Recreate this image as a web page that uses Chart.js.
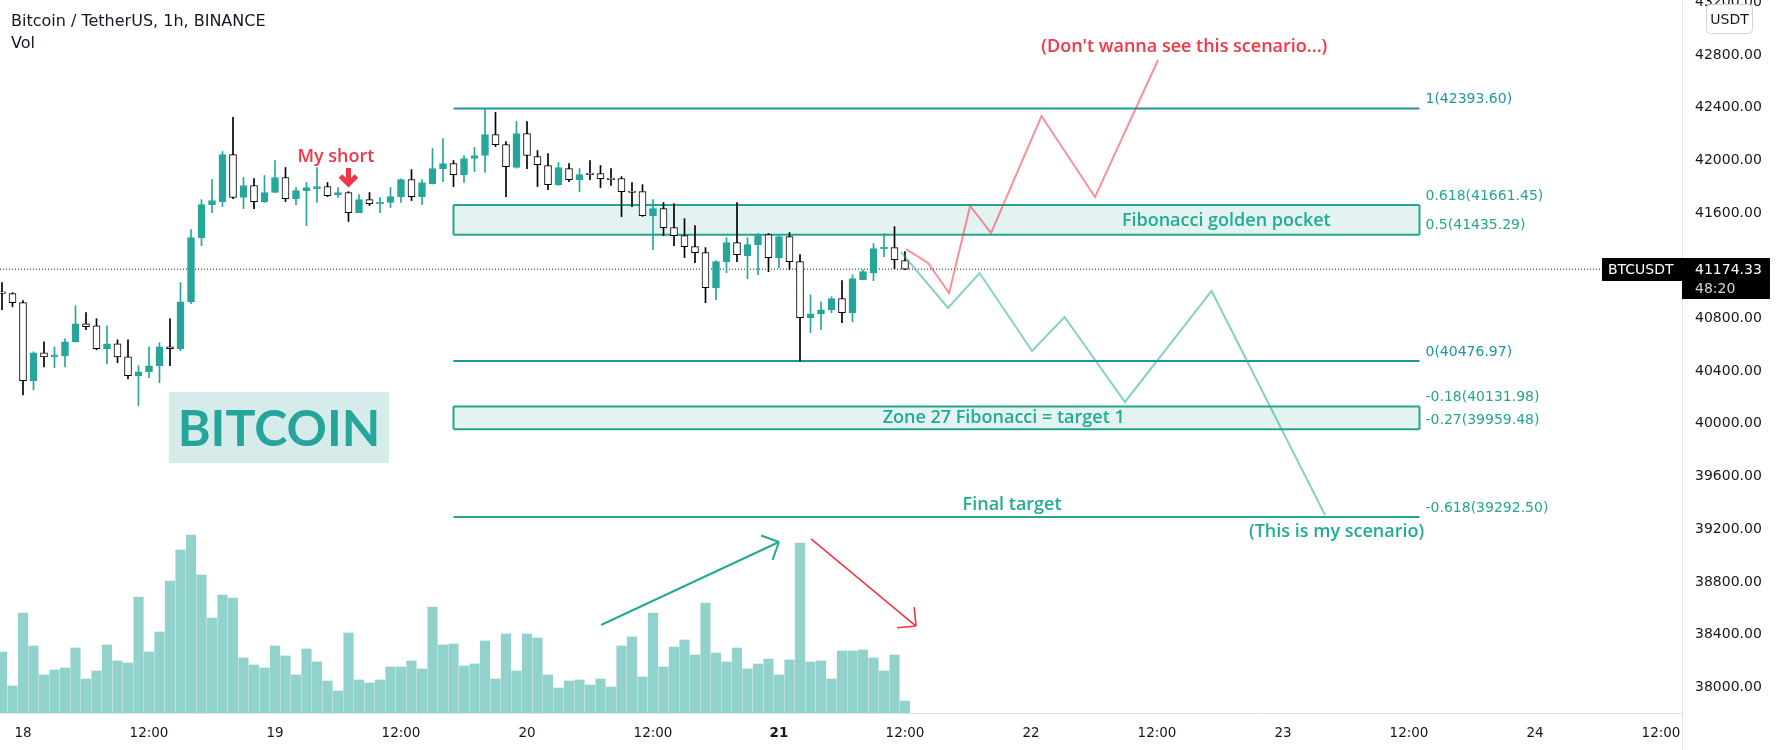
<!DOCTYPE html>
<html>
<head>
<meta charset="utf-8">
<script src="https://cdn.jsdelivr.net/npm/chart.js@4.4.0/dist/chart.umd.min.js"></script>
<style>
  html, body { margin: 0; padding: 0; background: #ffffff; }
  #wrap { width: 1776px; height: 750px; }
</style>
</head>
<body>
<div id="wrap"><canvas id="myChart" width="1776" height="750"></canvas></div>
<script>
// hours since 18 00:00 (1h candles)
const hours = [-2, -1, 0, 1, 2, 3, 4, 5, 6, 7, 8, 9, 10, 11, 12, 13, 14, 15, 16, 17, 18, 19, 20, 21, 22, 23, 24, 25, 26, 27,
  28, 29, 30, 31, 32, 33, 34, 35, 36, 37, 38, 39, 40, 41, 42, 43, 44, 45, 46, 47, 48, 49, 50, 51, 52, 53, 54, 55, 56, 57,
  58, 59, 60, 61, 62, 63, 64, 65, 66, 67, 68, 69, 70, 71, 72, 73, 74, 75, 76, 77, 78, 79, 80, 81, 82, 83, 84];

const opens = [40996, 40988, 40920, 40327, 40540, 40509, 40517, 40623, 40760, 40745,
  40570, 40608, 40509, 40365, 40395, 40441, 40585, 40570, 40927, 41414,
  41664, 41687, 42044, 41718, 41809, 41687, 41756, 41870, 41710, 41771,
  41786, 41801, 41740, 41756, 41604, 41702, 41672, 41680, 41725, 41854,
  41725, 41824, 41938, 41976, 41892, 42014, 42037, 42196, 42120, 41946,
  42204, 42029, 41961, 41816, 41938, 41854, 41900, 41900, 41862, 41862,
  41763, 41763, 41581, 41634, 41490, 41429, 41345, 41300, 41034, 41231,
  41376, 41277, 41360, 41436, 41262, 41421, 41231, 40806, 40836, 40866,
  40950, 40844, 41094, 41148, 41330, 41338, 41239];

const highs = [41072, 40996, 40935, 40547, 40623, 40585, 40646, 40897, 40844, 40798,
  40745, 40638, 40638, 40441, 40585, 40616, 40798, 41072, 41474, 41702,
  41854, 42067, 42326, 41870, 41862, 41885, 41999, 41946, 41794, 41832,
  41946, 41832, 41794, 41763, 41740, 41756, 41718, 41794, 41860, 41930,
  41854, 42090, 42166, 41999, 42037, 42098, 42394, 42364, 42143, 42295,
  42295, 42075, 42052, 41984, 41976, 41938, 41999, 41961, 41938, 41877,
  41832, 41816, 41702, 41680, 41672, 41558, 41505, 41338, 41240, 41414,
  41680, 41414, 41444, 41444, 41430, 41452, 41284, 40980, 40927, 40965,
  41087, 41132, 41170, 41368, 41444, 41497, 41307];

const lows = [40866, 40889, 40220, 40258, 40433, 40426, 40433, 40620, 40714, 40562,
  40456, 40464, 40342, 40137, 40350, 40312, 40441, 40555, 40912, 41353,
  41604, 41649, 41710, 41634, 41634, 41680, 41756, 41687, 41664, 41505,
  41680, 41725, 41718, 41536, 41604, 41657, 41604, 41642, 41680, 41695,
  41664, 41820, 41839, 41801, 41832, 41915, 41908, 42105, 41725, 41940,
  41938, 41801, 41778, 41810, 41839, 41763, 41854, 41794, 41809, 41573,
  41649, 41575, 41322, 41429, 41353, 41262, 41224, 40920, 40942, 41148,
  41231, 41102, 41132, 41155, 41186, 41170, 40477, 40692, 40714, 40844,
  40768, 40775, 41094, 41087, 41269, 41178, 41170];

const closes = [40990, 40920, 40327, 40540, 40509, 40524, 40623, 40760, 40737, 40570,
  40608, 40509, 40365, 40395, 40441, 40585, 40570, 40927, 41414, 41664,
  41695, 42044, 41718, 41809, 41687, 41756, 41870, 41710, 41771, 41794,
  41801, 41733, 41756, 41604, 41702, 41672, 41680, 41725, 41854, 41725,
  41832, 41938, 41976, 41892, 42014, 42037, 42196, 42120, 41953, 42204,
  42037, 41968, 41816, 41946, 41854, 41892, 41892, 41862, 41854, 41763,
  41756, 41581, 41634, 41490, 41429, 41345, 41300, 41034, 41231, 41376,
  41284, 41360, 41436, 41262, 41421, 41231, 40806, 40836, 40866, 40950,
  40844, 41102, 41155, 41330, 41338, 41246, 41174.33];

const volumes = [61, 27, 100, 67, 38, 43, 45, 65, 34, 42,
  68, 52, 50, 116, 61, 81, 132, 163, 178, 138,
  95, 118, 115, 55, 48, 45, 67, 57, 38, 64,
  51, 32, 22, 80, 33, 30, 33, 46, 46, 52,
  44, 106, 68, 69, 47, 49, 72, 34, 79, 42,
  79, 75, 38, 25, 32, 33, 28, 34, 26, 67,
  76, 36, 100, 46, 66, 73, 58, 110, 60, 51,
  65, 44, 49, 54, 38, 53, 170, 51, 52, 34,
  62, 62, 63, 55, 42, 58, 12];

const xTickHours = [0, 12, 24, 36, 48, 60, 72, 84, 96, 108, 120, 132, 144, 156];
const xTickLabels = ['18', '12:00', '19', '12:00', '20', '12:00', '21', '12:00', '22', '12:00', '23', '12:00', '24', '12:00'];
const priceTicks = [38000, 38400, 38800, 39200, 39600, 40000, 40400, 40800, 41200, 41600, 42000, 42400, 42800, 43200];

// Fibonacci retracement drawn from the 42393.60 high to the 40476.97 low
const fibRatios = [1, 0.618, 0.5, 0, -0.18, -0.27, -0.618];
const fibPrices = [42393.60, 41661.45, 41435.29, 40476.97, 40131.98, 39959.48, 39292.50];
const fibFrom = 41, fibTo = 133;

// scenario paths (hour, price)
const myScenarioHours = [83.6, 88.1, 91.1, 96.1, 99.2, 104.95, 113.2, 124.0];
const myScenarioPrices = [41305, 40880, 41145, 40553, 40811, 40166, 41009, 39308];
const badScenarioHours = [84.1, 86.2, 88.2, 90.2, 92.2, 97.0, 102.1, 108.1];
const badScenarioPrices = [41327, 41221, 40993, 41654, 41449, 42337, 41722, 42762];

const lastPrice = 41174.33;

const TEAL = '#26a69a';
const GREEN = '#22ab94';
const RED = '#f23645';
const AXIS_FONT = '"DejaVu Sans", sans-serif';
const NOTE_FONT = '"Open Sans", "Noto Sans", sans-serif';

const notes = [
  { text: 'My short', t: 29.8, p: 42026, color: RED },
  { text: "(Don't wanna see this scenario...)", t: 110.6, p: 42861, color: RED },
  { text: 'Fibonacci golden pocket', t: 114.6, p: 41540, color: GREEN },
  { text: 'Zone 27 Fibonacci = target 1', t: 93.4, p: 40044, color: GREEN },
  { text: 'Final target', t: 94.2, p: 39384, color: GREEN },
  { text: '(This is my scenario)', t: 125.1, p: 39179, color: GREEN }
];

function fibColor(r) { return (r === 1 || r === 0) ? '#1d95a2' : '#26a48c'; }
const isUp = i => closes[i] >= opens[i];

function arrowLine(ctx, x0, y0, x1, y1, head) {
  const ang = Math.atan2(y1 - y0, x1 - x0);
  ctx.beginPath();
  ctx.moveTo(x0, y0);
  ctx.lineTo(x1, y1);
  [Math.PI * 0.75, -Math.PI * 0.75].forEach(d => {
    ctx.moveTo(x1, y1);
    ctx.lineTo(x1 + head * Math.cos(ang + d), y1 + head * Math.sin(ang + d));
  });
  ctx.stroke();
}

const overlay = {
  id: 'overlay',
  afterDatasetsDraw(chart) {
    const { ctx, chartArea: a, scales: { x, y } } = chart;
    const X = v => x.getPixelForValue(v);
    const Y = v => y.getPixelForValue(v);
    ctx.save();
    ctx.beginPath();
    ctx.rect(a.left, a.top, a.right - a.left, a.bottom - a.top);
    ctx.clip();

    // side edges of the two zones
    [[1, 2], [4, 5]].forEach(([i, j]) => {
      ctx.strokeStyle = fibColor(fibRatios[i]);
      ctx.lineWidth = 2;
      [fibFrom, fibTo].forEach(t => {
        ctx.beginPath();
        ctx.moveTo(X(t), Y(fibPrices[i]));
        ctx.lineTo(X(t), Y(fibPrices[j]));
        ctx.stroke();
      });
    });

    // fib level labels
    ctx.font = '14px ' + AXIS_FONT;
    ctx.textAlign = 'left';
    ctx.textBaseline = 'middle';
    fibRatios.forEach((r, i) => {
      ctx.fillStyle = fibColor(r);
      ctx.fillText(r + '(' + fibPrices[i].toFixed(2) + ')', X(fibTo) + 6, Y(fibPrices[i]) - 9);
    });

    // BITCOIN badge
    const bx0 = X(13.9), bx1 = X(34.86), by0 = Y(40242), by1 = Y(39703);
    ctx.fillStyle = '#d5ecea';
    ctx.fillRect(bx0, by0, bx1 - bx0, by1 - by0);
    ctx.fillStyle = TEAL;
    ctx.font = 'bold 50px Lato, sans-serif';
    ctx.textAlign = 'center';
    ctx.fillText('BITCOIN', (bx0 + bx1) / 2, (by0 + by1) / 2 + 2);

    // text notes
    ctx.font = '600 18px ' + NOTE_FONT;
    notes.forEach(n => {
      ctx.fillStyle = n.color;
      ctx.fillText(n.text, X(n.t), Y(n.p));
    });

    // "my short" marker
    const mx = X(31), mTop = Y(41942), mTip = Y(41821);
    ctx.strokeStyle = RED;
    ctx.lineWidth = 5;
    ctx.lineJoin = 'miter';
    ctx.beginPath();
    ctx.moveTo(mx, mTop);
    ctx.lineTo(mx, mTip - 2);
    ctx.stroke();
    ctx.beginPath();
    ctx.moveTo(mx - 8, mTip - 8);
    ctx.lineTo(mx, mTip);
    ctx.lineTo(mx + 8, mTip - 8);
    ctx.stroke();

    // volume arrows
    ctx.lineJoin = 'round';
    ctx.strokeStyle = GREEN;
    ctx.lineWidth = 2;
    arrowLine(ctx, X(55.05), Y(38473), X(72.0), Y(39103), 19);
    ctx.strokeStyle = RED;
    ctx.lineWidth = 1.6;
    arrowLine(ctx, X(75.05), Y(39126), X(85.05), Y(38465), 19);
    ctx.restore();
  },
  afterDraw(chart) {
    const { ctx, chartArea: a, scales: { y } } = chart;
    const py = Math.round(y.getPixelForValue(lastPrice));
    ctx.save();
    // axis separator continues into the time strip
    ctx.strokeStyle = '#e0e3eb';
    ctx.lineWidth = 1;
    ctx.beginPath();
    ctx.moveTo(a.right + 0.5, a.bottom);
    ctx.lineTo(a.right + 0.5, 750);
    ctx.stroke();

    // last price label
    ctx.fillStyle = '#000000';
    ctx.fillRect(a.right - 80, py - 11, 80, 23);
    ctx.fillRect(a.right, py - 11, 88, 41);
    ctx.font = '14px ' + AXIS_FONT;
    ctx.textAlign = 'left';
    ctx.textBaseline = 'middle';
    ctx.fillStyle = '#ffffff';
    ctx.fillText('BTCUSDT', a.right - 74, py + 1);
    ctx.fillText(lastPrice.toFixed(2), a.right + 13, py + 1);
    ctx.fillStyle = '#d1d4dc';
    ctx.fillText('48:20', a.right + 13, py + 20);

    // currency badge
    ctx.fillStyle = '#ffffff';
    ctx.strokeStyle = '#d1d4dc';
    ctx.beginPath();
    ctx.roundRect(1706.5, 4.5, 46, 29, 4);
    ctx.fill();
    ctx.stroke();
    ctx.fillStyle = '#131722';
    ctx.textAlign = 'center';
    ctx.fillText('USDT', 1729.5, 20);

    // title
    ctx.textAlign = 'left';
    ctx.font = '16px ' + AXIS_FONT;
    ctx.fillStyle = '#131722';
    ctx.fillText('Bitcoin / TetherUS, 1h, BINANCE', 11, 22);
    ctx.fillText('Vol', 11, 44);
    ctx.restore();
  }
};

const ctx = document.getElementById('myChart').getContext('2d');
const fibDatasets = fibRatios.map((r, i) => ({
  type: 'line',
  label: 'fib ' + r,
  data: [{ x: fibFrom, y: fibPrices[i] }, { x: fibTo, y: fibPrices[i] }],
  borderColor: fibColor(r),
  borderWidth: 2,
  pointRadius: 0,
  fill: (r === 0.618 || r === -0.18) ? '+1' : false,
  backgroundColor: 'rgba(38, 166, 154, 0.13)',
  order: 7
}));

const myChart = new Chart(ctx, {
  type: 'bar',
  data: {
    datasets: [
      {
        label: 'Volume',
        yAxisID: 'yVol',
        data: hours.map((t, i) => ({ x: t, y: volumes[i] })),
        backgroundColor: 'rgba(38, 166, 154, 0.5)',
        barThickness: 9.5,
        grouped: false,
        order: 9
      },
      {
        label: 'Wicks',
        data: hours.map((t, i) => ({ x: t, y: [lows[i], highs[i]] })),
        backgroundColor: hours.map((t, i) => isUp(i) ? TEAL : '#000000'),
        barThickness: 1,
        grouped: false,
        order: 3
      },
      {
        label: 'Bodies',
        data: hours.map((t, i) => ({ x: t, y: [opens[i], closes[i]] })),
        backgroundColor: hours.map((t, i) => isUp(i) ? TEAL : '#ffffff'),
        borderColor: hours.map((t, i) => isUp(i) ? TEAL : '#000000'),
        borderWidth: 1,
        borderSkipped: false,
        barThickness: 7,
        minBarLength: 1.5,
        grouped: false,
        order: 2
      },
      ...fibDatasets,
      {
        type: 'line',
        label: 'Last price',
        data: [{ x: -2.19, y: lastPrice }, { x: 158, y: lastPrice }],
        borderColor: '#131722',
        borderWidth: 1,
        borderDash: [1, 2],
        pointRadius: 0,
        order: 8
      },
      {
        type: 'line',
        label: 'My scenario',
        data: myScenarioHours.map((t, i) => ({ x: t, y: myScenarioPrices[i] })),
        borderColor: 'rgba(34, 171, 148, 0.55)',
        borderWidth: 2,
        pointRadius: 0,
        order: 1
      },
      {
        type: 'line',
        label: 'Bad scenario',
        data: badScenarioHours.map((t, i) => ({ x: t, y: badScenarioPrices[i] })),
        borderColor: 'rgba(242, 54, 69, 0.55)',
        borderWidth: 2,
        pointRadius: 0,
        order: 0
      }
    ]
  },
  options: {
    responsive: false,
    animation: false,
    devicePixelRatio: 1,
    layout: { padding: 0 },
    plugins: { legend: { display: false }, tooltip: { enabled: false } },
    scales: {
      x: {
        type: 'linear',
        offset: false,
        min: -2.19,
        max: 158,
        grid: { display: false, drawTicks: false },
        border: { display: true, color: '#e0e3eb' },
        afterBuildTicks: s => { s.ticks = xTickHours.map(v => ({ value: v })); },
        afterFit: s => { s.height = 37; s.paddingLeft = 0; s.paddingRight = 0; },
        ticks: {
          autoSkip: false,
          maxRotation: 0,
          padding: 12,
          color: '#131722',
          font: c => ({ family: AXIS_FONT, size: 13.5, weight: xTickLabels[c.index] === '21' ? 'bold' : 'normal' }),
          callback: (v, i) => xTickLabels[i]
        }
      },
      y: {
        position: 'right',
        min: 37805,
        max: 43217.5,
        grid: { display: false, drawTicks: false },
        border: { display: true, color: '#e0e3eb' },
        afterBuildTicks: s => { s.ticks = priceTicks.map(v => ({ value: v })); },
        afterFit: s => { s.width = 94; s.paddingTop = 0; s.paddingBottom = 0; },
        ticks: {
          autoSkip: false,
          padding: 13,
          color: '#131722',
          font: { family: AXIS_FONT, size: 14 },
          callback: v => Number(v).toFixed(2)
        }
      },
      yVol: {
        display: false,
        min: 0,
        max: 713
      }
    }
  },
  plugins: [overlay]
});
</script>
</body>
</html>
